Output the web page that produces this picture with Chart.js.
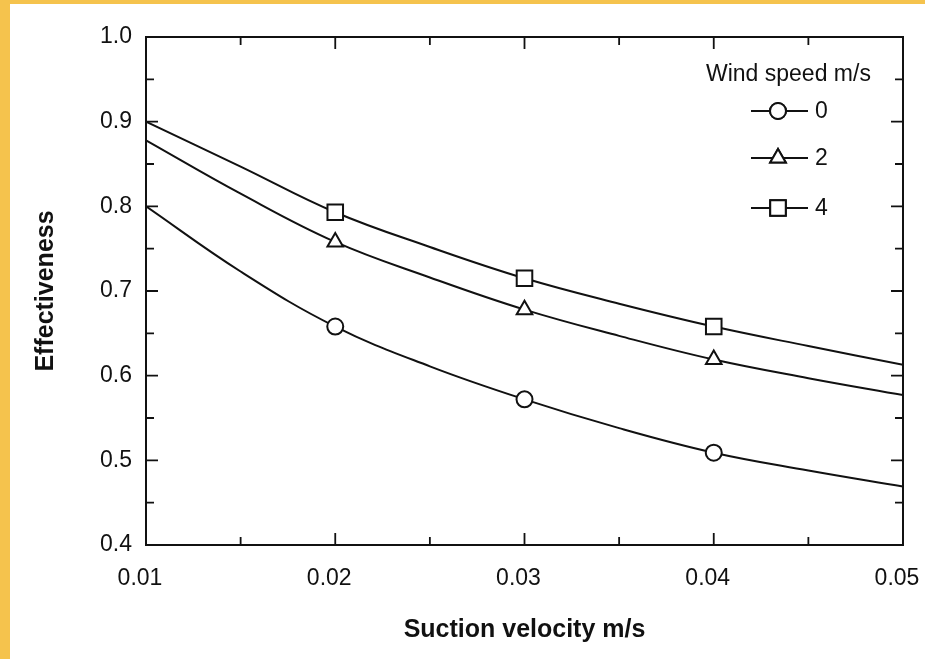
<!DOCTYPE html>
<html>
<head>
<meta charset="utf-8">
<script src="https://cdn.jsdelivr.net/npm/chart.js@4.4.1/dist/chart.umd.min.js"></script>
<style>
  html, body { margin: 0; padding: 0; background: #fff; }
  #frame {
    width: 915px; height: 655px;
    border-left: 10px solid #f5c34d;
    border-top: 4px solid #f5c34d;
    background: #fff;
  }
  canvas { display: block; }
</style>
</head>
<body>
<div id="frame"><canvas id="chart" width="915" height="655"></canvas></div>
<script>
/* ── data ───────────────────────────────────────────────────────────── */

const suctionVelocity = [0.01, 0.015, 0.02, 0.025, 0.03, 0.035, 0.04, 0.045, 0.05];
const markerVelocity  = [0.02, 0.03, 0.04];

const windSpeeds   = ['0', '2', '4'];
const effWind0     = [0.800, 0.723, 0.658, 0.611, 0.572, 0.538, 0.509, 0.488, 0.469];
const effWind2     = [0.878, 0.815, 0.758, 0.716, 0.678, 0.647, 0.619, 0.597, 0.577];
const effWind4     = [0.900, 0.847, 0.793, 0.752, 0.715, 0.685, 0.658, 0.635, 0.613];

const xTickLabels = ['0.01', '0.02', '0.03', '0.04', '0.05'];
const yTickLabels = ['0.4', '0.5', '0.6', '0.7', '0.8', '0.9', '1.0'];

/* ── styling ────────────────────────────────────────────────────────── */

const INK        = '#111';
const FONT_FACE  = "'Liberation Sans', Arial, Helvetica, sans-serif";
const TICK_FONT  = { family: FONT_FACE, size: 23 };
const TITLE_FONT = { family: FONT_FACE, size: 25, weight: 'bold' };
const MARKER_R   = { circle: 8, triangle: 9, rect: 11 };

const xTickValues = xTickLabels.map(Number);
const yTickValues = yTickLabels.map(Number);

function makeSeries(label, values, pointStyle) {
  return {
    label,
    data: suctionVelocity.map((x, i) => ({ x, y: values[i] })),
    borderColor: INK,
    borderWidth: 2,
    pointStyle,
    pointRadius: ctx => markerVelocity.includes(ctx.raw && ctx.raw.x) ? MARKER_R[pointStyle] : 0,
    pointBorderColor: INK,
    pointBorderWidth: 2,
    pointBackgroundColor: '#fff',
    tension: 0.4,
    fill: false,
  };
}

const datasets = [
  makeSeries(windSpeeds[0], effWind0, 'circle'),
  makeSeries(windSpeeds[1], effWind2, 'triangle'),
  makeSeries(windSpeeds[2], effWind4, 'rect'),
];

/* ── frame box + inward ticks on all four sides ─────────────────────── */

function minorSteps(values) {
  const out = [];
  for (let i = 0; i < values.length - 1; i++) out.push((values[i] + values[i + 1]) / 2);
  return out;
}

const frameTicks = {
  id: 'frameTicks',
  afterDatasetsDraw(chart) {
    const { ctx, chartArea: a, scales: { x, y } } = chart;
    ctx.save();
    ctx.strokeStyle = INK;
    ctx.lineWidth = 2;
    ctx.strokeRect(a.left, a.top, a.right - a.left, a.bottom - a.top);

    ctx.lineWidth = 1.8;
    ctx.beginPath();
    const tickX = (v, len) => {
      const px = x.getPixelForValue(v);
      ctx.moveTo(px, a.bottom); ctx.lineTo(px, a.bottom - len);
      ctx.moveTo(px, a.top);    ctx.lineTo(px, a.top + len);
    };
    const tickY = (v, len) => {
      const py = y.getPixelForValue(v);
      ctx.moveTo(a.left, py);  ctx.lineTo(a.left + len, py);
      ctx.moveTo(a.right, py); ctx.lineTo(a.right - len, py);
    };
    xTickValues.slice(1, -1).forEach(v => tickX(v, 12));
    minorSteps(xTickValues).forEach(v => tickX(v, 8));
    yTickValues.slice(1, -1).forEach(v => tickY(v, 12));
    minorSteps(yTickValues).forEach(v => tickY(v, 8));
    ctx.stroke();
    ctx.restore();
  },
};

/* ── legend drawn like the original (line – marker – line, label) ──── */

const lineLegend = {
  id: 'lineLegend',
  afterDraw(chart) {
    const { ctx } = chart;
    ctx.save();
    ctx.fillStyle = INK;
    ctx.font = `23px ${FONT_FACE}`;
    ctx.textBaseline = 'alphabetic';
    ctx.fillText('Wind speed m/s', 696, 77);

    const rows = [107, 154, 204];
    chart.data.datasets.forEach((ds, i) => {
      const cy = rows[i];
      ctx.strokeStyle = INK;
      ctx.lineWidth = 2;
      ctx.beginPath();
      ctx.moveTo(741, cy); ctx.lineTo(798, cy);
      ctx.stroke();

      ctx.fillStyle = '#fff';
      Chart.helpers.drawPoint(ctx, { pointStyle: ds.pointStyle, radius: MARKER_R[ds.pointStyle], borderWidth: 2 }, 768, cy);
      ctx.fill();
      ctx.stroke();

      ctx.fillStyle = INK;
      ctx.textBaseline = 'middle';
      ctx.fillText(ds.label, 805, cy + 1);
    });
    ctx.restore();
  },
};

/* ── chart ──────────────────────────────────────────────────────────── */

new Chart(document.getElementById('chart'), {
  type: 'line',
  data: { datasets },
  options: {
    responsive: false,
    animation: false,
    layout: { padding: { top: 33, right: 22, left: 0, bottom: 0 } },
    plugins: { legend: { display: false }, tooltip: { enabled: false } },
    scales: {
      x: {
        type: 'linear',
        min: 0.01,
        max: 0.05,
        grid: { display: false, drawTicks: false },
        border: { display: false },
        afterBuildTicks: s => { s.ticks = xTickValues.map(value => ({ value })); },
        afterFit: s => { s.height = 114; s.paddingLeft = 0; s.paddingRight = 0; },
        ticks: {
          color: INK,
          font: TICK_FONT,
          padding: 20,
          labelOffset: -6,
          maxRotation: 0,
          callback: v => xTickLabels[xTickValues.indexOf(v)] ?? '',
        },
        title: {
          display: true,
          text: 'Suction velocity m/s',
          color: INK,
          font: TITLE_FONT,
          padding: { top: 0, bottom: 14 },
        },
      },
      y: {
        min: 0.4,
        max: 1.0,
        grid: { display: false, drawTicks: false },
        border: { display: false },
        afterBuildTicks: s => { s.ticks = yTickValues.map(value => ({ value })); },
        afterFit: s => { s.width = 136; s.paddingTop = 0; s.paddingBottom = 0; },
        ticks: {
          color: INK,
          font: TICK_FONT,
          padding: 14,
          callback: v => yTickLabels[yTickValues.indexOf(v)] ?? '',
        },
        title: {
          display: true,
          text: 'Effectiveness',
          color: INK,
          font: TITLE_FONT,
          padding: { top: 21, bottom: 0 },
        },
      },
    },
  },
  plugins: [frameTicks, lineLegend],
});
</script>
</body>
</html>
